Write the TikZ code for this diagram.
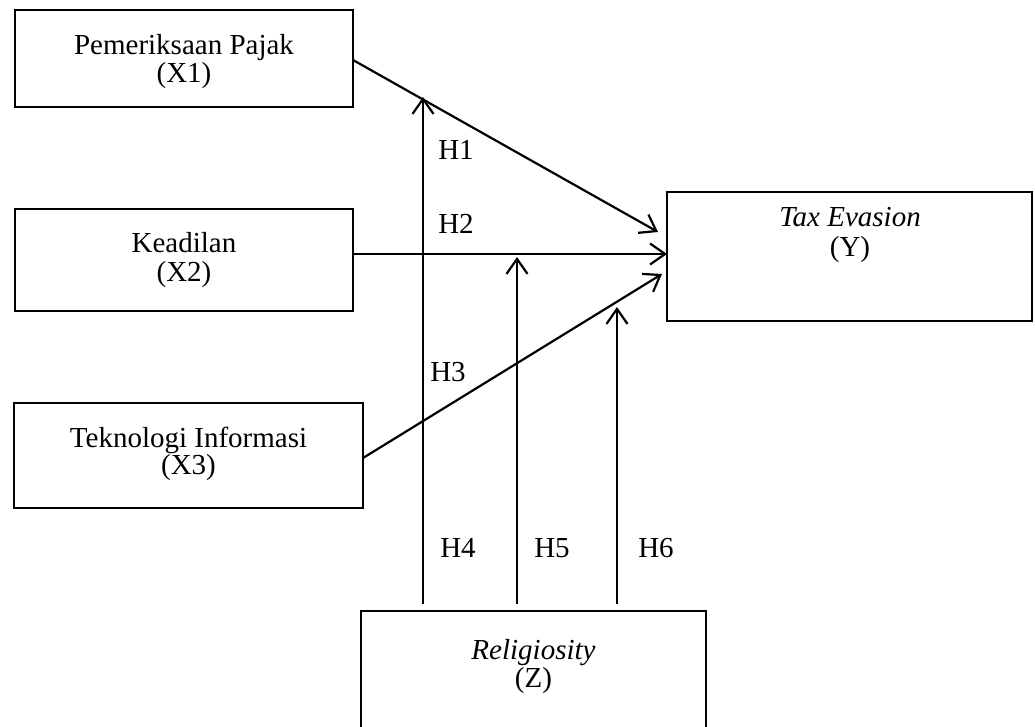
\documentclass[tikz,border=0pt]{standalone}
\usepackage{fontspec}
\setmainfont{Liberation Serif}
\usetikzlibrary{arrows.meta}
\begin{document}
\begin{tikzpicture}[x=1pt,y=-1pt,
  box/.style={draw,line width=2.4pt,inner sep=0pt,outer sep=0pt},
  lbl/.style={font=\fontsize{29}{29}\selectfont,align=center,inner sep=0pt},
  hyp/.style={font=\fontsize{29}{29}\selectfont,inner sep=0pt},
  conn/.style={line width=2.2pt},
  arr/.style={conn,-{Straight Barb[length=15pt,width=21pt]}}]
\useasboundingbox (0,0) rectangle (1035,727);
% boxes
\node[box,minimum width=338pt,minimum height=97pt] (X1) at (184,58.5) {};
\node[box,minimum width=338pt,minimum height=102pt] (X2) at (184,260) {};
\node[box,minimum width=349pt,minimum height=105pt] (X3) at (188.5,455.5) {};
\node[box,minimum width=365pt,minimum height=129pt] (Y) at (849.5,256.5) {};
\node[box,minimum width=345pt,minimum height=140pt] (Z) at (533.5,681) {};
% texts
\node[lbl] (X1t) at (184,61.7) {Pemeriksaan Pajak\\[-1pt](X1)};
\node[lbl] (X2t) at (184,260.2) {Keadilan\\(X2)};
\node[lbl] (X3t) at (188.5,454) {Teknologi Informasi\\[-2pt](X3)};
\node[lbl] (Yt) at (850,235) {\textit{Tax Evasion}\\[1pt](Y)};
\node[lbl] (Zt) at (533.5,666.7) {\textit{Religiosity}\\[-1pt](Z)};
% connector end points
\coordinate (t1) at (658,232);
\coordinate (t2) at (667,254);
\coordinate (t3) at (662,274);
\coordinate (z4) at (423,604);
\coordinate (z5) at (517,604);
\coordinate (z6) at (617,604);
\coordinate (m4) at (423,97);
\coordinate (m5) at (517,257);
\coordinate (m6) at (617,307);
% main paths
\draw[arr] ([yshift=-1.5pt]X1.east) -- (t1);
\draw[arr] (X2.east |- t2) -- (t2);
\draw[arr] ([yshift=-2.5pt]X3.east) -- (t3);
% moderation arrows
\draw[arr] (z4) -- (m4);
\draw[arr] (z5) -- (m5);
\draw[arr] (z6) -- (m6);
% hypothesis labels
\node[hyp] (H1) at (456,150) {H1};
\node[hyp] (H2) at (456,224) {H2};
\node[hyp] (H3) at (448,372) {H3};
\node[hyp] (H4) at (458,548) {H4};
\node[hyp] (H5) at (552,548) {H5};
\node[hyp] (H6) at (656,548) {H6};
\end{tikzpicture}
\end{document}
